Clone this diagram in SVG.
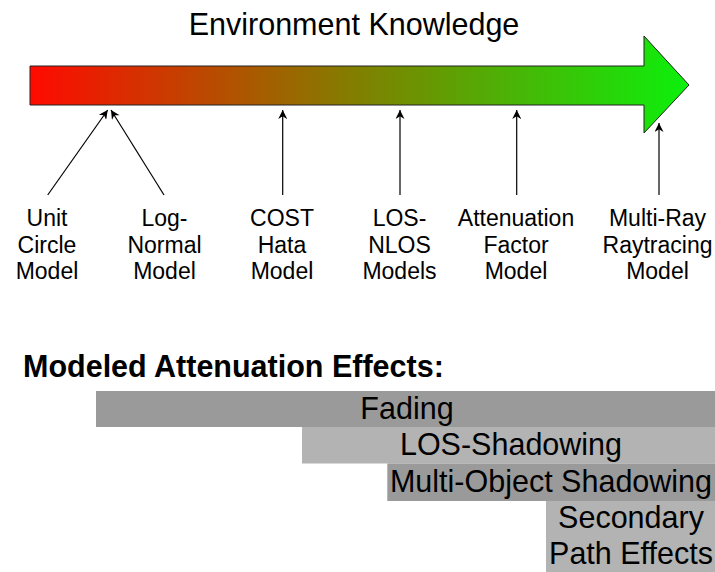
<svg xmlns="http://www.w3.org/2000/svg" width="715" height="572" viewBox="0 0 715 572">
  <style>
    text { font-family: "Liberation Sans", Arial, Helvetica, sans-serif; fill: #000; }
    .title { font-size: 30.5px; text-anchor: middle; }
    .lbl { font-size: 23px; text-anchor: middle; }
    .head { font-size: 30.5px; font-weight: bold; }
    .bar { font-size: 30.5px; text-anchor: middle; }
    .dark { fill: #9a9a9a; }
    .light { fill: #b3b3b3; }
    .conn line { stroke: #000; stroke-width: 1.2; fill: none; marker-end: url(#ah); }
  </style>
  <defs>
    <linearGradient id="grad" x1="30" y1="0" x2="689" y2="0" gradientUnits="userSpaceOnUse">
      <stop offset="0" stop-color="#ff0a00"/>
      <stop offset="0.5" stop-color="#808000"/>
      <stop offset="1" stop-color="#0cf00c"/>
    </linearGradient>
    <marker id="ah" viewBox="0 0 10 10" refX="10" refY="5" markerWidth="11" markerHeight="9" markerUnits="userSpaceOnUse" orient="auto">
      <path d="M0,0 L10,5 L0,10 L3,5 Z" fill="#000"/>
    </marker>
  </defs>

  <g id="title">
    <text class="title" x="354" y="35">Environment Knowledge</text>
  </g>

  <g id="knowledge-arrow">
    <path d="M30,66 H644 V36 L689,85 L644,133 V105 H30 Z" fill="url(#grad)" stroke="#222" stroke-width="1"/>
  </g>

  <g id="connectors" class="conn">
    <line x1="47.7" y1="195" x2="107.7" y2="110"/>
    <line x1="164" y1="195" x2="111" y2="110"/>
    <line x1="282.7" y1="195" x2="282.7" y2="110"/>
    <line x1="400" y1="195" x2="400" y2="110"/>
    <line x1="516.7" y1="195" x2="516.7" y2="110"/>
    <line x1="659" y1="195" x2="659" y2="123"/>
  </g>

  <g id="unit-circle">
    <text class="lbl" x="47" y="226">Unit</text>
    <text class="lbl" x="47" y="252.5">Circle</text>
    <text class="lbl" x="47" y="279">Model</text>
  </g>
  <g id="log-normal">
    <text class="lbl" x="164.5" y="226">Log-</text>
    <text class="lbl" x="164.5" y="252.5">Normal</text>
    <text class="lbl" x="164.5" y="279">Model</text>
  </g>
  <g id="cost-hata">
    <text class="lbl" x="282" y="226">COST</text>
    <text class="lbl" x="282" y="252.5">Hata</text>
    <text class="lbl" x="282" y="279">Model</text>
  </g>
  <g id="los-nlos">
    <text class="lbl" x="399.5" y="226">LOS-</text>
    <text class="lbl" x="399.5" y="252.5">NLOS</text>
    <text class="lbl" x="399.5" y="279">Models</text>
  </g>
  <g id="attenuation-factor">
    <text class="lbl" x="516" y="226">Attenuation</text>
    <text class="lbl" x="516" y="252.5">Factor</text>
    <text class="lbl" x="516" y="279">Model</text>
  </g>
  <g id="multi-ray">
    <text class="lbl" x="657.5" y="226">Multi-Ray</text>
    <text class="lbl" x="657.5" y="252.5">Raytracing</text>
    <text class="lbl" x="657.5" y="279">Model</text>
  </g>

  <g id="heading">
    <text class="head" x="23" y="376.5">Modeled Attenuation Effects:</text>
  </g>

  <g id="fading">
    <rect class="dark" x="96" y="391" width="619" height="36"/>
    <text class="bar" x="407" y="418.5">Fading</text>
  </g>
  <g id="los-shadowing">
    <rect class="light" x="302" y="427" width="413" height="36.5"/>
    <text class="bar" x="511" y="455">LOS-Shadowing</text>
  </g>
  <g id="multi-object-shadowing">
    <rect class="dark" x="387.3" y="463.5" width="327.7" height="37.5"/>
    <text class="bar" x="551" y="492">Multi-Object Shadowing</text>
  </g>
  <g id="secondary-path">
    <rect class="light" x="546" y="501" width="169" height="71"/>
    <text class="bar" x="631" y="527.5">Secondary</text>
    <text class="bar" x="631" y="564">Path Effects</text>
  </g>
</svg>
